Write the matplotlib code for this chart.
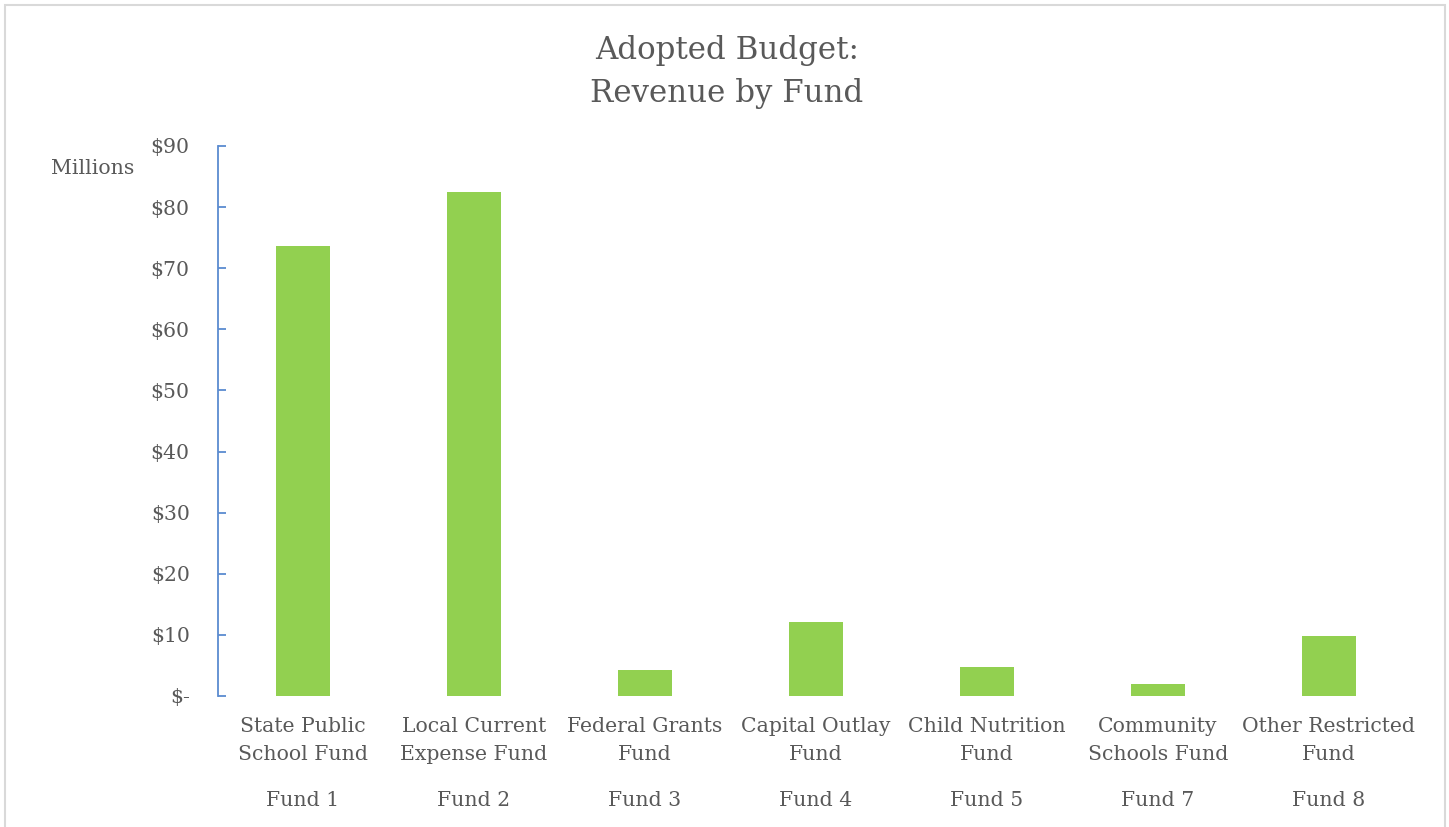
import matplotlib
matplotlib.use("Agg")
import matplotlib.pyplot as plt
import matplotlib.transforms as mtransforms
from matplotlib.patches import Rectangle

# data (millions of dollars)
funds = ["Fund 1", "Fund 2", "Fund 3", "Fund 4", "Fund 5", "Fund 7", "Fund 8"]
names = ["State Public\nSchool Fund", "Local Current\nExpense Fund", "Federal Grants\nFund",
         "Capital Outlay\nFund", "Child Nutrition\nFund", "Community\nSchools Fund",
         "Other Restricted\nFund"]
revenue = [73.6, 82.5, 4.3, 12.1, 4.7, 2.0, 9.8]
yticks = [0, 10, 20, 30, 40, 50, 60, 70, 80, 90]
ytick_labels = ["$-", "$10", "$20", "$30", "$40", "$50", "$60", "$70", "$80", "$90"]

text_col = "#595959"
fs = 14.7
plt.rcParams["font.family"] = ["DejaVu Serif"]

W, H = 1449, 827
fig = plt.figure(figsize=(W / 100, H / 100), dpi=100)
ax = fig.add_axes([217.5 / W, 1 - 696 / H, (1414.5 - 217.5) / W, (696 - 146) / H])

x = range(len(funds))
ax.bar(x, revenue, width=0.315, color="#92D050")
ax.set_xlim(-0.5, len(funds) - 0.5)
ax.set_ylim(0, 90)
ax.set_yticks(yticks)
ax.set_yticklabels(ytick_labels)
ax.set_xticks(list(x))
ax.set_xticklabels(names, linespacing=1.6)

for s in ["top", "right", "bottom"]:
    ax.spines[s].set_visible(False)
ax.spines["left"].set_color("#5B8BD0")
ax.spines["left"].set_linewidth(1.3)
ax.tick_params(axis="y", direction="in", length=6, width=1.3, color="#5B8BD0",
               labelsize=fs, labelcolor=text_col, pad=20)
ax.tick_params(axis="x", length=0, labelsize=fs, labelcolor=text_col, pad=15)

trans = mtransforms.blended_transform_factory(ax.transData, fig.transFigure)
for i, f in enumerate(funds):
    ax.text(i, 1 - 800 / H, f, transform=trans, ha="center", va="center",
            fontsize=fs, color=text_col)

fig.text(134 / W, 1 - 168 / H, "Millions", ha="right", va="center",
         fontsize=fs, color=text_col)
fig.text(727 / W, 1 - 72 / H, "Adopted Budget:\nRevenue by Fund", ha="center",
         va="center", fontsize=22.2, color=text_col, linespacing=1.48)

# light frame around the chart area
fig.patches.append(Rectangle((5 / W, -0.05), 1440 / W, 1 - 5 / H + 0.05,
                             transform=fig.transFigure, fill=False,
                             edgecolor="#D9D9D9", linewidth=1.5))

fig.savefig("out.png", dpi=100)
